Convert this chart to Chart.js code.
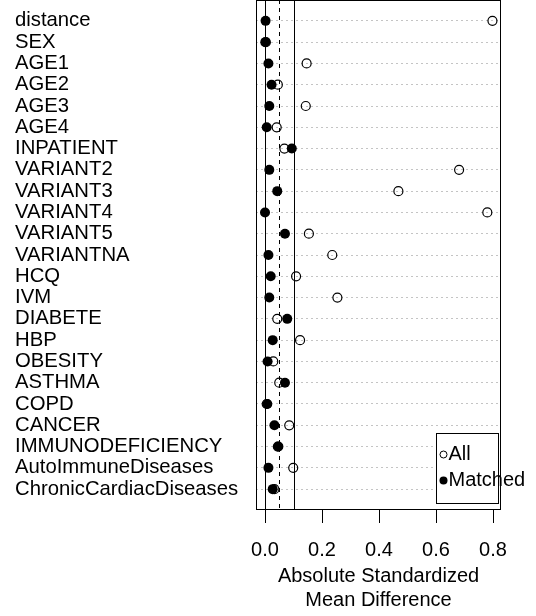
<!DOCTYPE html>
<html>
<head>
<meta charset="utf-8">
<script src="https://cdn.jsdelivr.net/npm/chart.js@4"></script>
<style>
  html, body { margin: 0; padding: 0; background: #fff; }
  #wrap { width: 536px; height: 616px; }
</style>
</head>
<body>
<div id="wrap"><canvas id="chart"></canvas></div>
<script>
const covariates = ['distance', 'SEX', 'AGE1', 'AGE2', 'AGE3', 'AGE4', 'INPATIENT',
  'VARIANT2', 'VARIANT3', 'VARIANT4', 'VARIANT5', 'VARIANTNA', 'HCQ', 'IVM',
  'DIABETE', 'HBP', 'OBESITY', 'ASTHMA', 'COPD', 'CANCER', 'IMMUNODEFICIENCY',
  'AutoImmuneDiseases', 'ChronicCardiacDiseases'];
const allValues = [0.798, 0.003, 0.146, 0.045, 0.143, 0.041, 0.068,
  0.681, 0.468, 0.780, 0.154, 0.236, 0.109, 0.254,
  0.043, 0.123, 0.029, 0.050, 0.006, 0.085, 0.045,
  0.099, 0.033];
const matchedValues = [0.002, 0.001, 0.012, 0.023, 0.015, 0.006, 0.094,
  0.015, 0.043, 0.000, 0.070, 0.012, 0.020, 0.015,
  0.078, 0.027, 0.009, 0.070, 0.008, 0.033, 0.047,
  0.012, 0.027];
const xTicks = [0, 0.2, 0.4, 0.6, 0.8];
const refLines = [0, 0.05, 0.1];

Chart.defaults.font.family = '"Liberation Sans", Arial, sans-serif';
Chart.defaults.font.size = 20;
Chart.defaults.color = '#000';

const toPoints = vals => vals.map((v, i) => ({ x: v, y: i + 1 }));

// reference lines, box and the in-plot legend
const frame = {
  id: 'frame',
  beforeDatasetsDraw(chart) {
    const { ctx, chartArea: a, scales: { x } } = chart;
    ctx.save();
    ctx.strokeStyle = '#000';
    ctx.lineWidth = 1;
    refLines.forEach((v, i) => {
      const px = Math.round(x.getPixelForValue(v)) + 0.5;
      ctx.setLineDash(i === 1 ? [4, 4] : []);
      ctx.beginPath();
      ctx.moveTo(px, a.top);
      ctx.lineTo(px, a.bottom);
      ctx.stroke();
    });
    ctx.setLineDash([]);
    ctx.strokeRect(Math.round(a.left) + 0.5, Math.round(a.top) + 0.5,
      Math.round(a.width) - 1, Math.round(a.height) - 1);
    ctx.restore();
  },
  afterDatasetsDraw(chart) {
    const { ctx, chartArea: a } = chart;
    const w = 62, h = 70;
    const left = Math.round(a.right - 3 - w) + 0.5;
    const top = Math.round(a.bottom - 7 - h) + 0.5;
    ctx.save();
    ctx.fillStyle = '#fff';
    ctx.fillRect(left, top, w, h);
    ctx.strokeStyle = '#000';
    ctx.lineWidth = 1;
    ctx.strokeRect(left, top, w, h);
    ctx.font = '20px "Liberation Sans", Arial, sans-serif';
    ctx.textBaseline = 'middle';
    ctx.fillStyle = '#000';
    chart.data.datasets.slice().reverse().forEach((ds, i) => {
      const cy = top + 21 + i * 26;
      ctx.beginPath();
      ctx.arc(left + 7, cy, ds.label === 'All' ? 3.5 : 4, 0, Math.PI * 2);
      if (ds.label === 'All') ctx.stroke(); else ctx.fill();
      ctx.fillText(ds.label, left + 12, cy);
    });
    ctx.restore();
  }
};

new Chart(document.getElementById('chart'), {
  type: 'scatter',
  data: {
    datasets: [
      {
        label: 'Matched',
        data: toPoints(matchedValues),
        pointRadius: 5,
        pointBackgroundColor: '#000',
        pointBorderColor: '#000',
        pointBorderWidth: 0,
        order: 0
      },
      {
        label: 'All',
        data: toPoints(allValues),
        pointRadius: 4.5,
        pointBackgroundColor: 'rgba(0,0,0,0)',
        pointBorderColor: '#000',
        pointBorderWidth: 1.2,
        order: 1
      }
    ]
  },
  options: {
    responsive: true,
    maintainAspectRatio: false,
    animation: false,
    layout: { autoPadding: false, padding: { left: 15, right: 35, top: 0, bottom: 0 } },
    plugins: {
      legend: { display: false },
      tooltip: { enabled: false }
    },
    scales: {
      x: {
        type: 'linear',
        min: -0.0316,
        max: 0.828,
        afterBuildTicks: s => { s.ticks = xTicks.map(v => ({ value: v })); },
        afterFit: s => { s.height = 106; s.paddingLeft = 0; s.paddingRight = 0; },
        ticks: {
          padding: 15,
          maxRotation: 0,
          autoSkip: false,
          callback: v => v.toFixed(1)
        },
        grid: {
          drawOnChartArea: false,
          drawTicks: true,
          tickLength: 13,
          color: '#000',
          lineWidth: 1
        },
        border: { display: false },
        title: {
          display: true,
          text: ['Absolute Standardized', 'Mean Difference'],
          font: { size: 20 },
          padding: { top: 0, bottom: 4 }
        }
      },
      y: {
        type: 'linear',
        reverse: true,
        min: 0.02,
        max: 23.98,
        afterBuildTicks: s => { s.ticks = covariates.map((_, i) => ({ value: i + 1 })); },
        afterFit: s => { s.width = 241; s.paddingTop = 0; s.paddingBottom = 0; },
        ticks: {
          crossAlign: 'far',
          padding: 0,
          autoSkip: false,
          font: { size: 20.3 },
          callback: v => covariates[v - 1]
        },
        grid: {
          drawTicks: false,
          color: '#c4c4c4',
          lineWidth: 1
        },
        border: { display: false, dash: [2, 3] }
      }
    }
  },
  plugins: [frame]
});
</script>
</body>
</html>
